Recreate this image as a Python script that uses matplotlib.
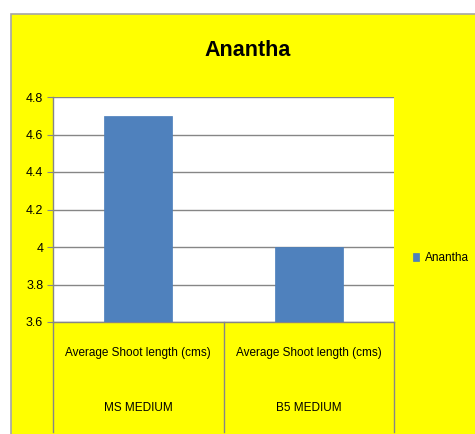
import matplotlib.pyplot as plt
from matplotlib.patches import Rectangle

plt.rcParams['font.family'] = ['Liberation Sans Narrow', 'Liberation Sans', 'DejaVu Sans']

# data
groups = ['MS MEDIUM', 'B5 MEDIUM']
measure = ['Average Shoot length (cms)', 'Average Shoot length (cms)']
values = [4.7, 4.0]
series_name = 'Anantha'
yticks = [3.6, 3.8, 4.0, 4.2, 4.4, 4.6, 4.8]
ytick_labels = ['3.6', '3.8', '4', '4.2', '4.4', '4.6', '4.8']

W, H = 475, 434
fig = plt.figure(figsize=(W / 100, H / 100), dpi=100)
fig.patch.set_facecolor('white')

# yellow chart area with grey border (in a background axes)
bg = fig.add_axes([0, 0, 1, 1], zorder=-1)
bg.set_xlim(0, W)
bg.set_ylim(H, 0)
bg.axis('off')
bg.add_patch(Rectangle((11, 14), W, H, facecolor='#FFFF00',
                       edgecolor='#A6A6A6', linewidth=1.2))

left, right, top, bottom = 53, 394, 97, 322
ax = fig.add_axes([left / W, (H - bottom) / H, (right - left) / W, (bottom - top) / H])
ax.set_facecolor('white')

x = list(range(len(values)))
ax.bar(x, values, width=0.4, color='#4F81BD', edgecolor='#4A7EBB', linewidth=0.5,
       zorder=3, label=series_name)
ax.set_xlim(-0.5, len(values) - 0.5)
ax.set_ylim(3.6, 4.8)
ax.set_yticks(yticks)
ax.set_yticklabels(ytick_labels, fontsize=9)
ax.grid(axis='y', color='#868686', linewidth=1, zorder=1)
ax.set_xticks([])
ax.tick_params(axis='y', direction='out', length=4, color='#868686', pad=3)
for s in ['top', 'right']:
    ax.spines[s].set_visible(False)
for s in ['left', 'bottom']:
    ax.spines[s].set_color('#868686')
    ax.spines[s].set_linewidth(1)

# multi-level category axis below the plot
ph = bottom - top
for d in [-0.5, 0.5, 1.5]:
    ax.plot([d, d], [0, -(432 - bottom) / ph], transform=ax.get_xaxis_transform(),
            color='#868686', linewidth=1, clip_on=False)
for i in x:
    ax.text(i, -(353 - bottom) / ph, measure[i], transform=ax.get_xaxis_transform(),
            ha='center', va='center', fontsize=8.5)
    ax.text(i, -(408 - bottom) / ph, groups[i], transform=ax.get_xaxis_transform(),
            ha='center', va='center', fontsize=8.5)

fig.text(248 / W, 1 - 50 / H, 'Anantha', ha='center', va='center',
         fontsize=15.5, fontweight='bold')

ax.legend(loc='center left', bbox_to_anchor=(413 / W, 1 - 258 / H),
          bbox_transform=fig.transFigure, frameon=False, fontsize=8.5,
          handlelength=0.5, handleheight=0.7, handletextpad=0.5, borderpad=0,
          borderaxespad=0)

fig.savefig('out.png', dpi=100)
